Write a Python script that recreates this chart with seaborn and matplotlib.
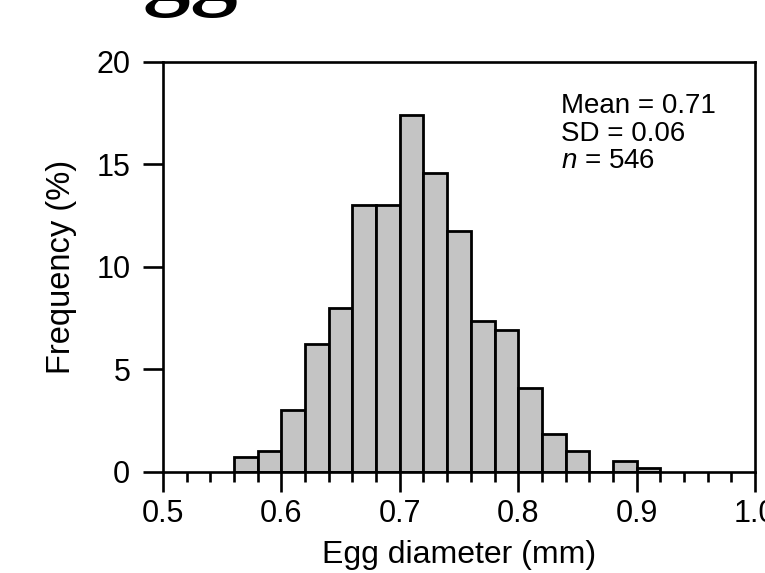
import numpy as np
import matplotlib
matplotlib.use("Agg")
import matplotlib.pyplot as plt
from matplotlib.ticker import MultipleLocator
import seaborn as sns

# egg diameter bins (mm) and frequency (%)
bin_edges = [0.56, 0.58, 0.60, 0.62, 0.64, 0.66, 0.68, 0.70, 0.72, 0.74,
             0.76, 0.78, 0.80, 0.82, 0.84, 0.86, 0.88, 0.90, 0.92]
freq = [0.7, 1.0, 3.0, 6.25, 8.0, 13.0, 13.0, 17.4, 14.55, 11.75,
        7.35, 6.9, 4.1, 1.85, 1.0, 0.0, 0.5, 0.2]
stats_text = ["Mean = 0.71", "SD = 0.06", "$n$ = 546"]
x_ticks = [0.5, 0.6, 0.7, 0.8, 0.9, 1.0]
x_labels = ["0.5", "0.6", "0.7", "0.8", "0.9", "1.0"]
y_ticks = [0, 5, 10, 15, 20]

sns.set_style("ticks")
plt.rcParams['font.family'] = ['Liberation Sans', 'DejaVu Sans']
plt.rcParams['mathtext.fontset'] = 'custom'
plt.rcParams['mathtext.it'] = 'Liberation Sans:italic'
plt.rcParams['mathtext.rm'] = 'Liberation Sans'
plt.rcParams['text.color'] = 'black'
plt.rcParams['axes.labelcolor'] = 'black'

bin_mid = [(bin_edges[i] + bin_edges[i + 1]) / 2 for i in range(len(freq))]

fig = plt.figure(figsize=(7.65, 5.73), dpi=100)
ax = fig.add_axes([0.213, 0.1768, 0.774, 0.7155])

sns.histplot(x=bin_mid, weights=freq, bins=bin_edges, ax=ax,
             color="#c4c4c4", alpha=1, edgecolor="black", linewidth=2.0)

ax.set_xlim(0.5, 1.0)
ax.set_ylim(0, 20)
ax.set_xticks(x_ticks)
ax.set_xticklabels(x_labels)
ax.xaxis.set_minor_locator(MultipleLocator(0.02))
ax.set_yticks(y_ticks)

for s in ax.spines.values():
    s.set_linewidth(1.9)
    s.set_color("black")

ax.tick_params(axis="both", which="major", direction="out", length=14.5,
               width=1.9, labelsize=22, colors="black")
ax.tick_params(axis="x", which="major", pad=5)
ax.tick_params(axis="y", which="major", pad=9)
ax.tick_params(axis="x", which="minor", direction="out", length=7.5, width=1.9,
               colors="black")

ax.set_xlabel("Egg diameter (mm)", fontsize=23, labelpad=8)
ax.set_ylabel("Frequency (%)", fontsize=23.5, labelpad=14)

ax.text(0.673, 0.923, "\n".join(stats_text), transform=ax.transAxes,
        ha="left", va="top", fontsize=20, linespacing=1.08, color="black")

# clipped slide title above the chart
fig.text(80 / 765, 1.003, "Egg size and season", fontsize=68,
         family="Liberation Serif", fontweight="bold", ha="left", va="baseline")

fig.savefig("out.png", dpi=100)
